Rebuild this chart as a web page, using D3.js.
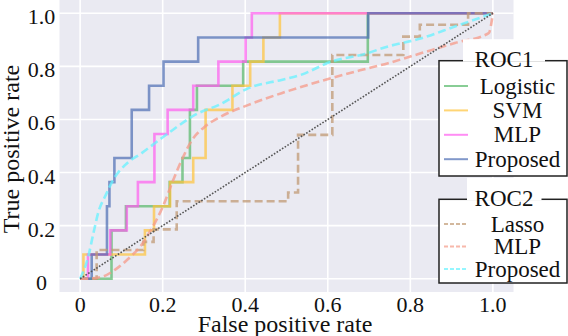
<!DOCTYPE html>
<html>
<head>
<meta charset="utf-8">
<script src="https://cdn.jsdelivr.net/npm/d3@7"></script>
</head>
<body style="margin:0">
<svg id="chart" width="568" height="336"></svg>
<script>
// ticks
const xTicks = [0, 0.2, 0.4, 0.6, 0.8, 1.0];
const xTickLabels = ["0", "0.2", "0.4", "0.6", "0.8", "1.0"];
const yTicks = [0, 0.2, 0.4, 0.6, 0.8, 1.0];
const yTickLabels = ["0", "0.2", "0.4", "0.6", "0.8", "1.0"];

// ROC1 (solid step curves): fpr where the curve rises, tpr after the rise
const logisticFpr = [0, 0.076, 0.111, 0.217, 0.248, 0.266, 0.283, 0.395, 0.697, 1];
const logisticTpr = [0, 0.182, 0.273, 0.364, 0.455, 0.636, 0.727, 0.818, 1.0, 1.0];
const svmFpr = [0, 0.008, 0.157, 0.179, 0.218, 0.274, 0.304, 0.369, 0.412, 0.444, 0.484, 1];
const svmTpr = [0, 0.091, 0.182, 0.273, 0.364, 0.455, 0.636, 0.727, 0.818, 0.909, 1.0, 1.0];
const mlpFpr = [0, 0.019, 0.073, 0.113, 0.14, 0.18, 0.212, 0.274, 0.335, 0.401, 0.416, 1];
const mlpTpr = [0, 0.091, 0.182, 0.273, 0.364, 0.545, 0.636, 0.727, 0.818, 0.909, 1.0, 1.0];
const proposedFpr = [0, 0.028, 0.065, 0.071, 0.083, 0.125, 0.167, 0.202, 0.286, 0.698, 1];
const proposedTpr = [0, 0.091, 0.273, 0.364, 0.455, 0.636, 0.727, 0.818, 0.909, 1.0, 1.0];

// ROC2 (dashed)
const lassoFpr = [0, 0.04, 0.153, 0.178, 0.234, 0.504, 0.528, 0.611, 0.783, 0.823, 0.94, 1];
const lassoTpr = [0, 0.108, 0.139, 0.186, 0.292, 0.325, 0.542, 0.843, 0.912, 0.957, 1.0, 1.0];
const mlp2Fpr = [0, 0.012, 0.05, 0.09, 0.12, 0.145, 0.17, 0.2, 0.225, 0.25, 0.27, 0.3, 0.34, 0.408, 0.488, 0.569, 0.678, 0.746, 0.827, 0.908, 0.99, 1];
const mlp2Tpr = [0, 0, 0.006, 0.04, 0.08, 0.12, 0.18, 0.27, 0.37, 0.46, 0.52, 0.57, 0.61, 0.655, 0.699, 0.738, 0.785, 0.812, 0.85, 0.888, 0.925, 1.0];
const proposed2Fpr = [0, 0.02, 0.032, 0.045, 0.062, 0.08, 0.11, 0.15, 0.185, 0.23, 0.278, 0.339, 0.408, 0.488, 0.533, 0.609, 0.69, 0.746, 0.827, 0.908, 1];
const proposed2Tpr = [0, 0.085, 0.17, 0.255, 0.315, 0.372, 0.43, 0.474, 0.515, 0.567, 0.617, 0.657, 0.718, 0.749, 0.767, 0.818, 0.847, 0.875, 0.906, 0.95, 1.0];

const legend1Labels = ["Logistic", "SVM", "MLP", "Proposed"];
const legend2Labels = ["Lasso", "MLP", "Proposed"];

const svg = d3.select("#chart");
const x = d3.scaleLinear().domain([-0.05, 1.05]).range([59.5, 513.5]);
const y = d3.scaleLinear().domain([-0.05, 1.05]).range([292, 0]);

// every label goes through here so they all get the serif face
function label(parent, size) {
  return parent.append("text")
    .attr("font-size", size)
    .attr("font-family", "Liberation Serif")
    .style("font-family", '"Liberation Serif"')
    .attr("fill", "#111")
    .attr("text-anchor", "middle");
}

// background
svg.append("rect")
  .attr("x", x(-0.05)).attr("y", y(1.05))
  .attr("width", x(1.05) - x(-0.05)).attr("height", y(-0.05) - y(1.05))
  .attr("fill", "#eaeaf2");

// grid
svg.append("g").selectAll("line").data(xTicks).join("line")
  .attr("x1", d => x(d)).attr("x2", d => x(d))
  .attr("y1", y(1.05)).attr("y2", y(-0.05))
  .attr("stroke", "#fff").attr("stroke-width", 1.6);
svg.append("g").selectAll("line").data(yTicks).join("line")
  .attr("y1", d => y(d)).attr("y2", d => y(d))
  .attr("x1", x(-0.05)).attr("x2", x(1.05))
  .attr("stroke", "#fff").attr("stroke-width", 1.6);

// tick labels
xTicks.forEach((t, i) => {
  label(svg, 22).attr("x", x(t)).attr("y", 311.5).text(xTickLabels[i]);
});
yTicks.forEach((t, i) => {
  label(svg, 22).attr("x", 41.5).attr("y", y(t) + 11).text(yTickLabels[i]);
});

// axis titles
label(svg, 24).attr("x", 285).attr("y", 332).text("False positive rate");
label(svg, 24).attr("transform", "translate(18.5,149) rotate(-90)").text("True positive rate");

const zip = (a, b) => a.map((v, i) => [v, b[i]]);
const stepLine = d3.line().x(d => x(d[0])).y(d => y(d[1])).curve(d3.curveStepAfter);
const smoothLine = d3.line().x(d => x(d[0])).y(d => y(d[1])).curve(d3.curveMonotoneX);

const roc1 = [
  { fpr: logisticFpr, tpr: logisticTpr, color: "#55b868" },
  { fpr: svmFpr, tpr: svmTpr, color: "#ffc33a" },
  { fpr: mlpFpr, tpr: mlpTpr, color: "#ff5cf0" },
  { fpr: proposedFpr, tpr: proposedTpr, color: "#4c6cb4" }
];
const roc2 = [
  { fpr: lassoFpr, tpr: lassoTpr, color: "#c09a74", gen: stepLine },
  { fpr: mlp2Fpr, tpr: mlp2Tpr, color: "#f59a88", gen: smoothLine },
  { fpr: proposed2Fpr, tpr: proposed2Tpr, color: "#66f2ff", gen: smoothLine }
];

roc1.forEach(s => {
  svg.append("path").attr("d", stepLine(zip(s.fpr, s.tpr)))
    .attr("fill", "none").attr("stroke", s.color)
    .attr("stroke-width", 2.6).attr("stroke-opacity", 0.7);
});
roc2.forEach(s => {
  svg.append("path").attr("d", s.gen(zip(s.fpr, s.tpr)))
    .attr("fill", "none").attr("stroke", s.color)
    .attr("stroke-width", 2.6).attr("stroke-opacity", 0.75)
    .attr("stroke-dasharray", "8,4");
});

// chance diagonal
svg.append("line")
  .attr("x1", x(0)).attr("y1", y(0)).attr("x2", x(1)).attr("y2", y(1))
  .attr("stroke", "#555").attr("stroke-width", 1.6)
  .attr("stroke-dasharray", "1.6,1.6");

// legends
function legend(title, labels, series, top, bottom, rowY, gapL, gapR, dashed) {
  const g = svg.append("g");
  g.append("rect").attr("x", 439).attr("y", top).attr("width", 128).attr("height", bottom - top)
    .attr("fill", "#fff").attr("stroke", "#222").attr("stroke-width", 1.5);
  g.append("rect").attr("x", gapL).attr("y", top - 21.5).attr("width", gapR - gapL).attr("height", 22.5)
    .attr("fill", "#fff");
  label(g, 23).attr("x", 504).attr("y", top + 6.5).text(title);
  labels.forEach((lab, i) => {
    const yy = rowY[i];
    g.append("line").attr("x1", 444).attr("x2", 468).attr("y1", yy).attr("y2", yy)
      .attr("stroke", series[i].color).attr("stroke-width", 2)
      .attr("stroke-opacity", 0.7)
      .attr("stroke-dasharray", dashed ? "4,2" : null);
    label(g, 23).attr("x", 517.5).attr("y", yy + 7.5).text(lab);
  });
}
legend("ROC1", legend1Labels, roc1, 60.7, 176, [86, 110.4, 134.8, 159.2], 463, 545, false);
legend("ROC2", legend2Labels, roc2, 199.3, 283, [224, 246.5, 269], 467, 541.5, true);
</script>
</body>
</html>
